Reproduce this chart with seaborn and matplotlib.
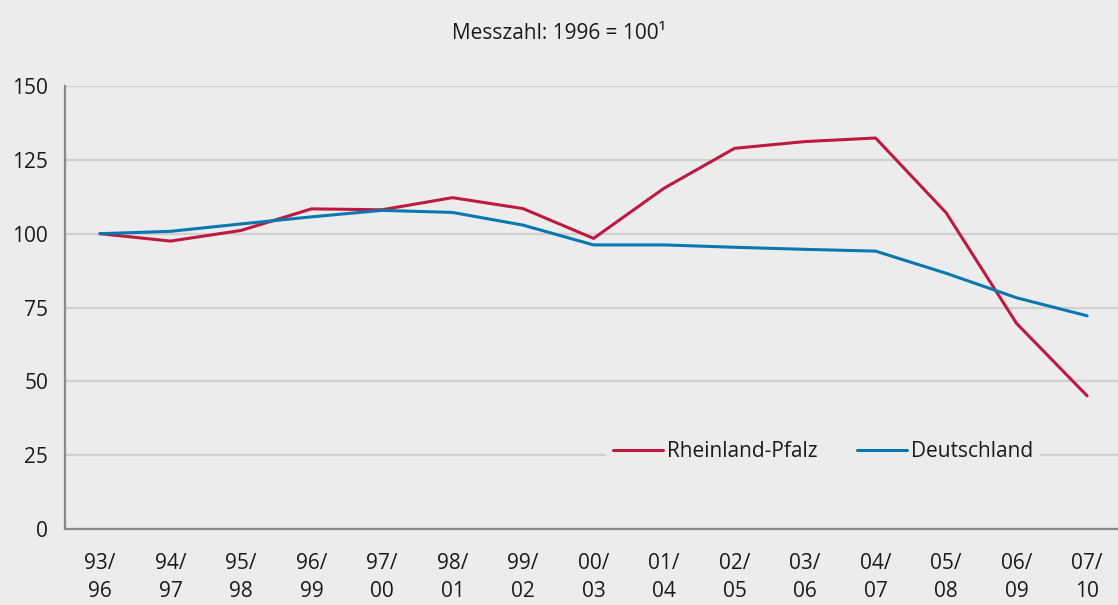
import matplotlib
matplotlib.use("Agg")
import matplotlib.pyplot as plt
import seaborn as sns
import pandas as pd

categories = ["93/\n96", "94/\n97", "95/\n98", "96/\n99", "97/\n00", "98/\n01", "99/\n02",
              "00/\n03", "01/\n04", "02/\n05", "03/\n06", "04/\n07", "05/\n08", "06/\n09", "07/\n10"]
rheinland_pfalz = [100, 97.5, 101.1, 108.4, 108.1, 112.2, 108.5, 98.4, 115.4, 128.9, 131.2, 132.4, 107.1, 69.6, 45.1]
deutschland = [100, 100.8, 103.3, 105.7, 107.9, 107.2, 102.9, 96.2, 96.2, 95.4, 94.7, 94.1, 86.6, 78.3, 72.2]
series_names = ["Rheinland-Pfalz", "Deutschland"]
y_ticks = [0, 25, 50, 75, 100, 125, 150]
title = "Messzahl: 1996 = 100\u00b9"

df = pd.DataFrame({
    "cat": categories * 2,
    "value": rheinland_pfalz + deutschland,
    "series": [series_names[0]] * len(categories) + [series_names[1]] * len(categories),
})

sns.set_theme(style="white")
bg = "#ececec"
plt.rcParams["font.family"] = ["Open Sans", "DejaVu Sans"]
plt.rcParams["text.color"] = "#1a1a1a"

fs = 15

fig = plt.figure(figsize=(11.18, 6.05), dpi=100, facecolor=bg)
ax = fig.add_axes([0.0579, 0.1256, 0.946, 0.7322])
ax.set_facecolor(bg)

palette = {series_names[0]: "#be1a40", series_names[1]: "#0a78b0"}
sns.lineplot(data=df, x="cat", y="value", hue="series", palette=palette, sort=False,
             linewidth=2.2, ax=ax, legend=True)

ax.set_xlim(-0.5, len(categories) - 0.5)
ax.set_ylim(0, 150)
ax.set_yticks(y_ticks)
ax.set_yticklabels([str(t) for t in y_ticks], fontsize=fs, color="#1a1a1a")
ax.set_xticks(range(len(categories)))
ax.set_xticklabels(categories, fontsize=fs, color="#1a1a1a", linespacing=1.45)
ax.set_xticks([i - 0.5 for i in range(len(categories) + 1)], minor=True)
ax.tick_params(axis="x", which="major", length=0, pad=17)
ax.tick_params(axis="x", which="minor", length=5, width=1.5, color="#888888", direction="out")
ax.tick_params(axis="y", length=5, width=1.5, color="#888888", direction="out", pad=7)
ax.set_xlabel("")
ax.set_ylabel("")

ax.grid(axis="y", color="#d0d0d0", linewidth=1.6)
ax.set_axisbelow(True)
for s in ["top", "right"]:
    ax.spines[s].set_visible(False)
for s in ["left", "bottom"]:
    ax.spines[s].set_color("#888888")
    ax.spines[s].set_linewidth(1.6)

handles, labels = ax.get_legend_handles_labels()
leg = ax.legend(handles, labels, ncol=2, loc="center", bbox_to_anchor=(0.736, 0.253),
                bbox_transform=fig.transFigure, frameon=True, fontsize=fs,
                handlelength=2.4, handletextpad=0.2, columnspacing=1.9, borderpad=0.3,
                borderaxespad=0)
leg.get_frame().set_facecolor(bg)
leg.get_frame().set_edgecolor(bg)
leg.get_frame().set_alpha(1)
for l in leg.get_lines():
    l.set_linewidth(2.2)

fig.text(0.5, 0.945, title, ha="center", va="center", fontsize=fs)

fig.savefig("out.png", dpi=100, facecolor=bg)
